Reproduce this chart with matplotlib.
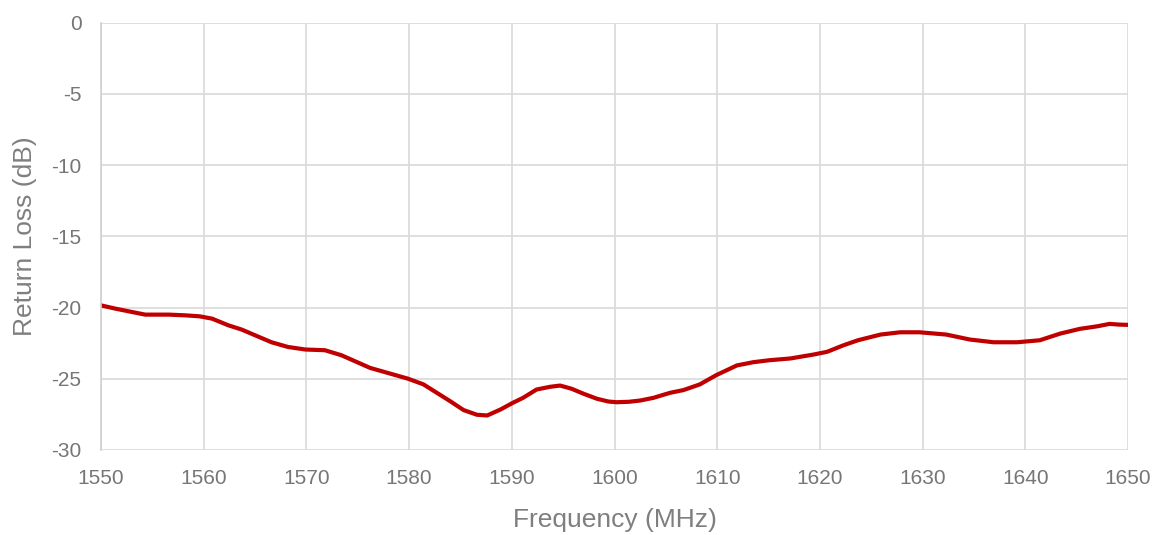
import matplotlib
matplotlib.use("Agg")
import matplotlib.pyplot as plt
from matplotlib.ticker import FuncFormatter

# Frequency (MHz) and return loss (dB)
freq = [1550, 1551.4, 1552.7, 1554.3, 1556.6, 1558.2, 1559.6, 1560.8, 1562.4, 1563.7,
        1565, 1566.6, 1568.2, 1569.9, 1571.8, 1573.4, 1574.5, 1576.2, 1578.1, 1579.9,
        1581.4, 1582.7, 1584, 1585.3, 1586.6, 1587.6, 1588.9, 1590.1, 1591.1, 1592.4,
        1593.7, 1594.7, 1595.8, 1597, 1598.3, 1599.4, 1600.2, 1601.4, 1602.5, 1603.8,
        1605.4, 1606.7, 1608.3, 1609.9, 1611.9, 1613.5, 1615.1, 1617.1, 1619.4, 1620.7,
        1622.3, 1623.7, 1625.9, 1627.8, 1629.7, 1632.3, 1634.6, 1636.9, 1639.2, 1641.4,
        1643.4, 1645.3, 1647, 1648.2, 1649.1, 1650]
rl = [-19.85, -20.08, -20.27, -20.5, -20.5, -20.55, -20.62, -20.78, -21.25, -21.55,
      -21.95, -22.44, -22.77, -22.95, -23.0, -23.35, -23.7, -24.24, -24.63, -25.0,
      -25.4, -25.99, -26.58, -27.2, -27.53, -27.58, -27.16, -26.69, -26.34, -25.76,
      -25.57, -25.48, -25.7, -26.06, -26.41, -26.6, -26.65, -26.62, -26.53, -26.34,
      -25.99, -25.8, -25.4, -24.75, -24.07, -23.84, -23.7, -23.58, -23.3, -23.11,
      -22.65, -22.3, -21.9, -21.74, -21.74, -21.9, -22.25, -22.44, -22.44, -22.3,
      -21.83, -21.5, -21.32, -21.15, -21.2, -21.22]

xticks = list(range(1550, 1651, 10))
yticks = list(range(-30, 1, 5))

font = "Liberation Sans"
tick_color = "#767676"
label_color = "#7F7F7F"

fig = plt.figure(figsize=(11.57, 5.35), dpi=100)
ax = fig.add_axes([0.0873, 0.159, 0.8877, 0.7987])

ax.plot(freq, rl, color="#C00000", linewidth=3.0,
        solid_capstyle="round", solid_joinstyle="round")

ax.set_xlim(1550, 1650)
ax.set_ylim(-30, 0)
ax.set_xticks(xticks)
ax.set_yticks(yticks)
# plain hyphen for negative numbers, like the original
ax.yaxis.set_major_formatter(FuncFormatter(lambda v, p: "%d" % v))
ax.grid(True, color="#D9D9D9", linewidth=1.2)
ax.set_axisbelow(True)
for s in ["top", "right", "bottom"]:
    ax.spines[s].set_visible(False)
ax.spines["left"].set_color("#D0D0D0")
ax.spines["left"].set_linewidth(1.2)
ax.tick_params(length=0, labelsize=15, labelcolor=tick_color)
ax.tick_params(axis="x", pad=14)
ax.tick_params(axis="y", pad=14)

for lab in ax.get_xticklabels() + ax.get_yticklabels():
    lab.set_fontfamily(font)

ax.set_xlabel("Frequency (MHz)", fontsize=19, color=label_color, family=font, va="center")
ax.set_ylabel("Return Loss (dB)", fontsize=19, color=label_color, family=font, va="center")
ax.xaxis.set_label_coords(0.5, -0.163)
ax.yaxis.set_label_coords(-0.074, 0.5)

fig.savefig("out.png", dpi=100)
